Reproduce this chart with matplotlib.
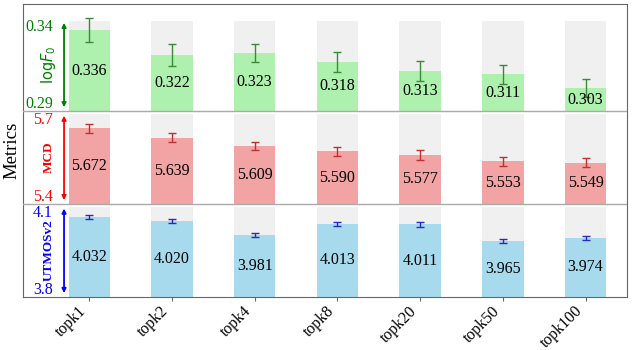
import numpy as np
import matplotlib
matplotlib.use('Agg')
import matplotlib.pyplot as plt

# data
labels = ['topk1', 'topk2', 'topk4', 'topk8', 'topk20', 'topk50', 'topk100']
logf0 = [0.336, 0.322, 0.323, 0.318, 0.313, 0.311, 0.303]
logf0_err = [0.0068, 0.0065, 0.0051, 0.0057, 0.0057, 0.0054, 0.0051]
mcd = [5.672, 5.639, 5.609, 5.590, 5.577, 5.553, 5.549]
mcd_err = [0.016, 0.017, 0.016, 0.017, 0.017, 0.017, 0.017]
utmos = [4.032, 4.020, 3.981, 4.013, 4.011, 3.965, 3.974]
utmos_err = [0.006, 0.006, 0.006, 0.006, 0.006, 0.006, 0.006]

# (values, errors, display range, scale range, label, colours), bottom band first
panels = [
    (utmos, utmos_err, ('3.8', '4.1'), (3.81, 4.068), 'UTMOSv2', 'blue', '#a8daee', '#2a2ac0'),
    (mcd, mcd_err, ('5.4', '5.7'), (5.4, 5.735), 'MCD', 'red', '#f2a3a3', '#c03030'),
    (logf0, logf0_err, ('0.29', '0.34'), (0.29, 0.343), r'log$F_0$', 'green', '#aef0ae', '#3a8a3a'),
]

plt.rcParams['font.family'] = ['Liberation Serif', 'DejaVu Serif']

fig = plt.figure(figsize=(6.32, 3.5), dpi=100)
ax = fig.add_axes([0.0364, 0.152, 0.9556, 0.836])

x = np.arange(len(labels))
w = 0.5

for i, (vals, errs, txt, rng, name, col, fill, ecol) in enumerate(panels):
    lo, hi = rng
    vals = np.array(vals)
    errs = np.array(errs)
    h = (vals - lo) / (hi - lo)
    e = errs / (hi - lo)
    # gray background bars
    ax.bar(x, 0.97, w, bottom=i, color='#f0f0f0', zorder=1)
    ax.bar(x, h, w, bottom=i, color=fill, zorder=2)
    ax.errorbar(x, i + h, yerr=e, fmt='none', ecolor=ecol, elinewidth=1,
                capsize=3, capthick=1, zorder=3)
    for xi, hi_, v in zip(x, h, vals):
        ax.text(xi, i + hi_ / 2, '%.3f' % v, ha='center', va='center',
                fontsize=11.5, zorder=4)
    # scale annotations on the left
    ax.text(-0.437, i + 0.075, txt[0], color=col, ha='right', va='center', fontsize=11.5)
    ax.text(-0.437, i + 0.9, txt[1], color=col, ha='right', va='center', fontsize=11.5)
    ax.annotate('', xy=(-0.304, i + 0.95), xytext=(-0.304, i + 0.04),
                arrowprops=dict(arrowstyle='<|-|>', color=col, lw=1.3,
                                mutation_scale=6, shrinkA=0, shrinkB=0))
    if name.startswith('log'):
        ax.text(-0.49, i + 0.5, name, color=col, rotation=90, ha='center',
                va='center', fontsize=10.5, family='DejaVu Sans')
    else:
        ax.text(-0.49, i + 0.5, name, color=col, rotation=90, ha='center',
                va='center', fontsize=9.5, fontweight='bold')

for yy in [1, 2]:
    ax.axhline(yy, color='#aaaaaa', lw=1, zorder=5)

ax.set_xlim(-0.8, 6.5)
ax.set_ylim(0, 3.15)
ax.set_yticks([])
ax.set_xticks(x)
ax.set_xticklabels(labels, rotation=45, ha='right', fontsize=11.5)
ax.tick_params(axis='x', length=3, pad=1.5, color='#666666')
ax.set_ylabel('Metrics', fontsize=13.5, labelpad=2)
for s in ax.spines.values():
    s.set_color('#666666')

plt.savefig('out.png', dpi=100)
